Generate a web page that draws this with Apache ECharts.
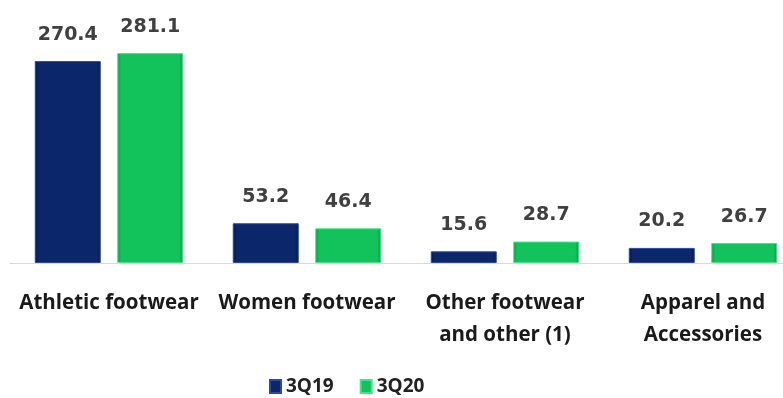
<!DOCTYPE html>
<html>
<head>
<meta charset="utf-8">
<script src="https://cdn.jsdelivr.net/npm/echarts@6/dist/echarts.min.js"></script>
<style>
	html, body { margin: 0; padding: 0; background: #fff; }
	#chart { width: 783px; height: 398px; }
</style>
</head>
<body>
<div id="chart"></div>
<script>
var categories = ['Athletic footwear', 'Women footwear', 'Other footwear\nand other (1)', 'Apparel and\nAccessories'];
var values3Q19 = [270.4, 53.2, 15.6, 20.2];
var values3Q20 = [281.1, 46.4, 28.7, 26.7];
var seriesNames = ['3Q19', '3Q20'];

function bevel(edge, base) {
	return {
		type: 'linear',
		x: 0, y: 0, x2: 1, y2: 0,
		colorStops: [
			{ offset: 0, color: edge },
			{ offset: 0.06, color: base },
			{ offset: 0.94, color: base },
			{ offset: 1, color: edge }
		]
	};
}

var chart = echarts.init(document.getElementById('chart'));

var labelStyle = {
	show: true,
	position: 'top',
	distance: 17,
	color: '#404040',
	fontFamily: 'DejaVu Sans',
	fontWeight: 'bold',
	fontSize: 19
};

chart.setOption({
	backgroundColor: '#ffffff',
	animation: false,
	grid: {
		left: 10,
		top: 39,
		width: 792,
		height: 224,
		outerBoundsMode: 'none',
		containLabel: false
	},
	legend: {
		top: 372,
		left: 264,
		itemWidth: 11,
		itemHeight: 13,
		itemGap: 26,
		icon: 'rect',
		textStyle: {
			color: '#222',
			fontFamily: 'Open Sans',
			fontWeight: 700,
			fontSize: 19
		},
		data: seriesNames
	},
	xAxis: {
		type: 'category',
		data: categories,
		axisLine: {
			lineStyle: { color: '#d9d9d9', width: 1 }
		},
		axisTick: { show: false },
		axisLabel: {
			interval: 0,
			hideOverlap: false,
			margin: 24,
			color: '#1a1a1a',
			fontFamily: 'Open Sans',
			fontWeight: 700,
			fontSize: 20.5,
			lineHeight: 32
		}
	},
	yAxis: {
		type: 'value',
		min: 0,
		max: 300,
		show: false,
		splitLine: { show: false }
	},
	series: [{
		name: seriesNames[0],
		type: 'bar',
		data: values3Q19,
		barWidth: 66,
		barGap: '25%',
		itemStyle: {
			color: bevel('#061848', '#0c266b'),
			borderColor: '#2a4a9a',
			borderWidth: 1
		},
		label: labelStyle
	}, {
		name: seriesNames[1],
		type: 'bar',
		data: values3Q20,
		barWidth: 66,
		itemStyle: {
			color: bevel('#0a9a45', '#12c25a'),
			borderColor: '#45e488',
			borderWidth: 1
		},
		label: labelStyle
	}]
});
</script>
</body>
</html>
